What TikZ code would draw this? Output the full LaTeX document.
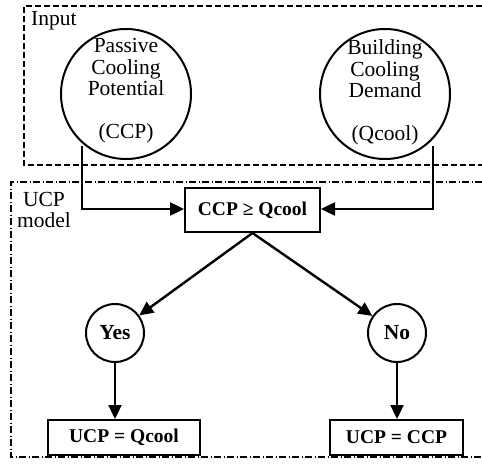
\documentclass[tikz,border=0pt]{standalone}
\usepackage{fontspec}
\setmainfont{Liberation Serif}
\usetikzlibrary{arrows.meta}
\begin{document}
\begin{tikzpicture}[x=1pt,y=-1pt,
  every node/.style={font=\fontsize{21.5}{21.5}\selectfont},
  bigcirc/.style={circle,draw,line width=2pt,minimum size=130pt,inner sep=0pt},
  smallcirc/.style={circle,draw,line width=2pt,minimum size=58pt,inner sep=0pt,font=\fontsize{21.5}{21}\selectfont\bfseries},
  decbox/.style={draw,line width=2pt,inner sep=0pt,font=\fontsize{19.5}{21}\selectfont\bfseries},
  conn/.style={line width=2.4pt,-{Triangle[length=14pt,width=13pt]}},
  inbox/.style={line width=1.1pt,dash pattern=on 6pt off 3pt},
  ucpbox/.style={line width=1.1pt,dash pattern=on 7pt off 2.5pt on 1pt off 2.5pt}]
\useasboundingbox (0,0) rectangle (482,468);
% frames
\draw[inbox] (482,6) -- (24,6) -- (24,165) -- (482,165);
\draw[ucpbox] (482,182) -- (11,182) -- (11,457) -- (482,457);
\node[anchor=west,inner sep=0pt] (inlabel) at (31,21) {Input};
\node[align=center,inner sep=0pt] (ucplabel) at (44,210) {UCP\\model};
% input circles
\node[bigcirc] (ccp) at (126,94) {};
\node[align=center,inner sep=0pt] (ccpt) at (126,67) {Passive\\Cooling\\Potential};
\node[inner sep=0pt] (ccpb) at (126,133) {(CCP)};
\node[bigcirc] (qc) at (385,94) {};
\node[align=center,inner sep=0pt] (qct) at (385,69) {Building\\Cooling\\Demand};
\node[inner sep=0pt] (qcb) at (385,135) {(Qcool)};
% decision
\node[decbox,minimum width=135pt,minimum height=44pt] (dec) at (252.5,210) {CCP ≥ Qcool};
\coordinate (lc) at (82,209);
\coordinate (rc) at (433,209);
\draw[conn] (ccp.south -| lc) ++(0,-14) -- (lc) -- (dec.west |- lc);
\draw[conn] (qc.south -| rc) ++(0,-14) -- (rc) -- (dec.east |- rc);
% yes/no
\node[smallcirc] (yes) at (115,333) {Yes};
\node[smallcirc] (no) at (397,333) {No};
\draw[conn] (dec.south) -- (yes);
\draw[conn] (dec.south) -- (no);
% results
\node[decbox,minimum width=152pt,minimum height=35pt] (r1) at (124,437.5) {UCP = Qcool};
\node[decbox,minimum width=133pt,minimum height=35pt] (r2) at (396.5,437.5) {UCP = CCP};
\draw[conn] (yes) -- (r1.north -| yes);
\draw[conn] (no) -- (r2.north -| no);
\end{tikzpicture}
\end{document}
